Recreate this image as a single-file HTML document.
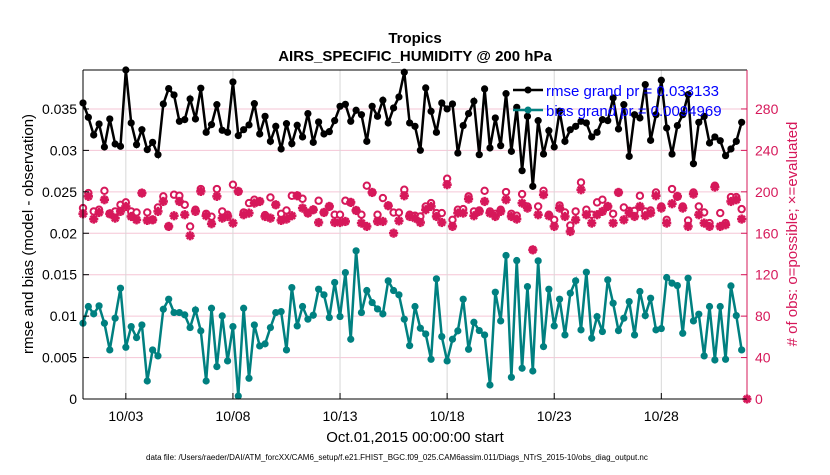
<!DOCTYPE html>
<html><head><meta charset="utf-8"><style>
body{margin:0;background:#fff;font-family:"Liberation Sans",sans-serif}
</style></head><body>
<svg id="chart" width="830" height="470" xmlns="http://www.w3.org/2000/svg" font-family="Liberation Sans, sans-serif">
<rect width="830" height="470" fill="#fff"/>
<g id="grid"></g>
<g id="series"></g>
<g id="axes"></g>
<text x="415" y="43" text-anchor="middle" font-size="15" font-weight="bold">Tropics</text>
<text x="415" y="61" text-anchor="middle" font-size="15" font-weight="bold">AIRS_SPECIFIC_HUMIDITY @ 200 hPa</text>
<text x="415" y="442" text-anchor="middle" font-size="15">Oct.01,2015 00:00:00 start</text>
<text x="146" y="460" font-size="8">data file: /Users/raeder/DAI/ATM_forcXX/CAM6_setup/f.e21.FHIST_BGC.f09_025.CAM6assim.011/Diags_NTrS_2015-10/obs_diag_output.nc</text>
<text transform="translate(33,234) rotate(-90)" text-anchor="middle" font-size="15">rmse and bias (model - observation)</text>
<text transform="translate(797,234) rotate(-90)" text-anchor="middle" font-size="15" fill="#d6185a"># of obs: o=possible; ×=evaluated</text>
<g>
<line x1="513" y1="90" x2="543" y2="90" stroke="#000" stroke-width="2.5"/><circle cx="528" cy="90" r="3.5" fill="#000"/>
<text x="546" y="96" font-size="15" fill="#0000ff">rmse grand pr = 0.033133</text>
<line x1="513" y1="110" x2="543" y2="110" stroke="#008080" stroke-width="2.5"/><circle cx="528" cy="110" r="3.5" fill="#008080"/>
<text x="546" y="116" font-size="15" fill="#0000ff">bias grand pr = 0.0094969</text>
</g>
</svg>
<script>
const rmse=[0.03572,0.03399,0.03186,0.03319,0.03041,0.03379,0.03077,0.03049,0.0397,0.03331,0.03069,0.0325,0.03009,0.03097,0.02948,0.0356,0.03746,0.03669,0.03351,0.03371,0.03621,0.03379,0.0375,0.03218,0.03311,0.03552,0.03242,0.03218,0.03826,0.03178,0.0325,0.03307,0.03564,0.03198,0.03411,0.03109,0.0329,0.03017,0.03323,0.03081,0.03303,0.03162,0.03444,0.03097,0.03343,0.03198,0.03226,0.03359,0.03532,0.03556,0.03351,0.03484,0.03431,0.03109,0.03532,0.03411,0.03605,0.03331,0.03512,0.03645,
0.03943,0.03331,0.0329,0.03001,0.03754,0.03472,0.03218,0.03572,0.035,0.0356,0.02968,0.03299,0.03444,0.03593,0.02948,0.03742,0.03029,0.03391,0.03057,0.03685,0.02988,0.0352,0.02755,0.03411,0.02566,0.03359,0.02956,0.03238,0.03041,0.03472,0.03109,0.0325,0.0329,0.03351,0.03331,0.03162,0.03218,0.03371,0.03359,0.03633,0.03258,0.03552,0.02928,0.03431,0.03391,0.03794,0.03121,0.03431,0.03846,0.0327,0.02956,0.03299,0.03431,0.03673,0.02839,0.03339,0.03411,0.03089,0.03162,0.03117,0.02936,0.03017,0.03109,0.03339];
const bias=[0.00914,0.01116,0.01027,0.01124,0.00914,0.00592,0.00975,0.01337,0.00624,0.00874,0.00741,0.00894,0.00217,0.00592,0.0052,0.01083,0.01204,0.01043,0.01043,0.01015,0.00862,0.01075,0.00822,0.00217,0.01095,0.00391,0.01003,0.00459,0.00874,0.00036,0.01095,0.0025,0.00894,0.0064,0.00665,0.00862,0.01043,0.01055,0.00592,0.01345,0.00882,0.01116,0.00963,0.01011,0.01325,0.01257,0.00983,0.01406,0.00995,0.01526,0.00721,0.01788,0.01043,0.01309,0.01164,0.01087,0.01027,0.01426,0.01309,0.01257,
0.00963,0.00644,0.01116,0.00854,0.00785,0.00479,0.0145,0.00753,0.00459,0.00721,0.00822,0.01204,0.006,0.00926,0.00826,0.00773,0.00169,0.01289,0.00942,0.01732,0.00262,0.01671,0.00371,0.01357,0.00338,0.01667,0.00632,0.01325,0.00882,0.01204,0.00773,0.01277,0.01426,0.00834,0.0153,0.00733,0.00995,0.00814,0.01438,0.01156,0.00826,0.00975,0.01176,0.00773,0.01297,0.01007,0.01216,0.00834,0.0085,0.01466,0.01398,0.01369,0.00793,0.01458,0.00942,0.01023,0.0052,0.01116,0.00471,0.01116,0.00479,0.01365,0.01007,0.00592];
const nEval=[178.8,195.6,173.7,180.1,192.4,178.8,174.6,181.1,185.9,176.2,173,198.8,172.4,173,181.1,190.7,166.6,176.9,190.7,177.9,157.6,181.1,200.4,176.9,169.2,195.6,174.6,176.2,169.8,200.4,177.9,179.5,189.1,190.7,176.2,174.6,187.5,172.4,173.7,176.9,196.2,184.3,179.5,182.7,170.4,180.1,185.9,170.4,170.4,171.4,189.8,182,169.8,166.6,199.4,171.4,171.4,186.6,160.1,172,
196.2,176.2,174.6,170.4,182.7,185.9,176.2,170.4,206.9,166.6,179.5,179.5,193,176.9,181.1,190.7,179.5,176.2,181.1,192.4,176.2,173.7,189.1,184.3,144,177.9,197.2,176.9,166.6,184.3,176.2,161.7,173,202,177.9,169.8,177.9,181.1,185.9,169.8,199.4,173,179.5,176.2,185.9,176.9,179.5,196.2,184.3,169.8,188.5,195.6,184.3,166.6,197.8,177.9,169.8,166.6,204.6,166.6,168.2,190.7,192.4,173.7];
const nPoss=[184.3,198.8,181.1,182.7,201,178.8,181.1,187.5,189.8,181.1,180.1,198.8,180.1,173,184.9,195.6,166.6,197.2,196.2,187.5,166.6,182.7,202.7,178.8,176,202.7,181.1,177.9,206.9,178.8,180.1,189.1,192.4,177.5,177.5,194.6,178.8,178.8,182,196.2,186.6,193.3,178.8,182.7,191.4,177.9,178.5,177.9,177.9,191.4,186.9,177.9,177.9,205.9,182,177.9,194,186.6,180,180,
202,177.9,176.9,176.2,185.9,189.1,179.5,179.5,212.7,173,182.7,183.3,195.6,181.1,182,201,181.1,178.8,182.7,199.8,178.8,176.9,197.8,185.9,144,185.9,201,177.9,173,186.9,180.1,167.5,181.1,209.1,182.7,177.9,189.8,192.4,179.5,178.8,199.4,184.9,181.7,181.7,196.2,181.1,182,199.4,185.9,173,202.7,184.9,185.9,172.4,199.4,185.9,180.1,169.8,205.9,179.5,169.8,194.9,194.9,183.3];
const leftTicks=[0,0.005,0.01,0.015,0.02,0.025,0.03,0.035];
const leftTickLabels=["0","0.005","0.01","0.015","0.02","0.025","0.03","0.035"];
const rightTicks=[0,40,80,120,160,200,240,280];
const xTickDays=[2,7,12,17,22,27];
const xTickLabels=["10/03","10/08","10/13","10/18","10/23","10/28"];
const stepDays=0.25;

const L=83,R=747,T=70,B=399,XMAX=31,YMAX=0.0397,RMAX=YMAX*8000;
const X=d=>L+d/XMAX*(R-L);
const Y=v=>B-v/YMAX*(B-T);
const YR=c=>B-c/RMAX*(B-T);
const NS="http://www.w3.org/2000/svg";
function mk(tag,attrs,parent){const e=document.createElementNS(NS,tag);for(const k in attrs)e.setAttribute(k,attrs[k]);parent.appendChild(e);return e;}
const grid=document.getElementById('grid'),ser=document.getElementById('series'),ax=document.getElementById('axes');
const RED="#d6185a";
leftTicks.forEach((v,i)=>{
  if(v>0){const g=mk('line',{x1:L,x2:R,y1:Y(v),y2:Y(v),stroke:'#f5c6d6','stroke-width':1},grid);
  
  }
  const t=mk('text',{x:L-6,y:Y(v)+5,'text-anchor':'end','font-size':14},ax);t.textContent=leftTickLabels[i];
  
  
  mk('line',{x1:L,x2:L+6,y1:Y(v),y2:Y(v),stroke:'#000'},ax);
});
rightTicks.forEach(c=>{
  const t=mk('text',{x:R+8,y:YR(c)+5,'font-size':14,fill:RED},ax);t.textContent=c;
  
  
  mk('line',{x1:R-6,x2:R,y1:YR(c),y2:YR(c),stroke:RED},ax);
});
xTickDays.forEach((d,i)=>{
  const g=mk('line',{x1:X(d),x2:X(d),y1:T,y2:B,stroke:'#d8d8d8','stroke-width':1},grid);
  
  
  mk('line',{x1:X(d),x2:X(d),y1:B,y2:B-6,stroke:'#000'},ax);
  const t=mk('text',{x:X(d),y:421,'text-anchor':'middle','font-size':14},ax);t.textContent=xTickLabels[i];
  
  
});
function star(cx,cy,r,parent){
  const g=mk('g',{stroke:RED,'stroke-width':2.6},parent);
  for(let a=0;a<4;a++){const th=a*Math.PI/4;mk('line',{x1:cx-r*Math.cos(th),y1:cy-r*Math.sin(th),x2:cx+r*Math.cos(th),y2:cy+r*Math.sin(th)},g);}
  return g;
}
nPoss.forEach((c,i)=>{
  const o=mk('circle',{cx:X(i*stepDays),cy:YR(Math.max(c,nEval[i])),r:3.2,fill:'#fff',stroke:RED,'stroke-width':2},ser);
  
  
});
nEval.forEach((c,i)=>{
  const s=star(X(i*stepDays),YR(c),4.6,ser);
  
  
});
function line(arr,color,name){
  const p=mk('polyline',{points:arr.map((v,i)=>X(i*stepDays)+','+Y(v)).join(' '),fill:'none',stroke:color,'stroke-width':2.5},ser);
  
  
  arr.forEach((v,i)=>{const c=mk('circle',{cx:X(i*stepDays),cy:Y(v),r:3.6,fill:color},ser);
    
    });
}
line(bias,'#008080','bias');
line(rmse,'#000','rmse');
const end=star(R,B,4.5,ser);


mk('line',{x1:L,x2:R,y1:T,y2:T,stroke:'#000'},ax);
mk('line',{x1:L,x2:R,y1:B,y2:B,stroke:'#000'},ax);
mk('line',{x1:L,x2:L,y1:T,y2:B,stroke:'#000'},ax);
mk('line',{x1:R,x2:R,y1:T,y2:B,stroke:RED},ax);
</script>
</body></html>
